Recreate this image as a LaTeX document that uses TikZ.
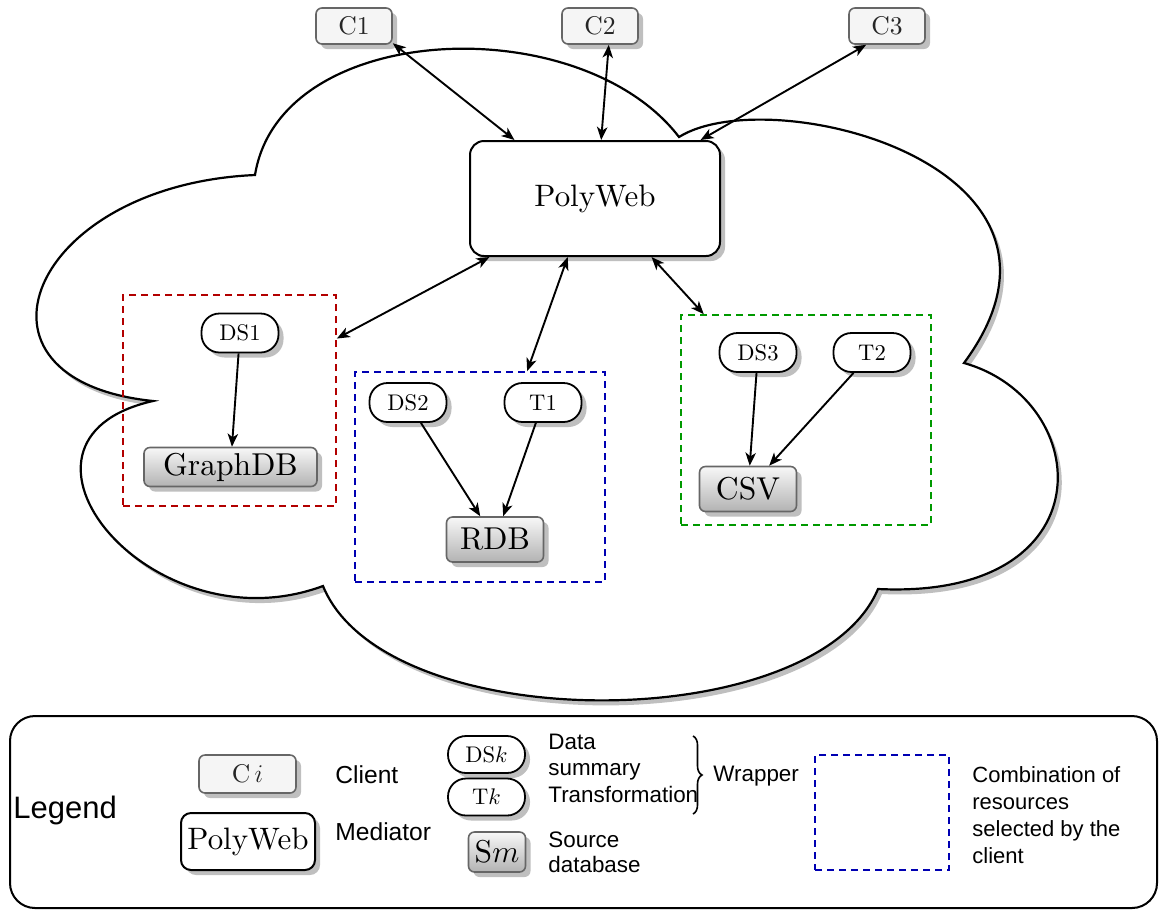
\RequirePackage{fix-cm}
\documentclass[tikz,border=0pt]{standalone}
\usepackage{fontspec}
\setmainfont{lmroman10-regular.otf}[ItalicFont=lmroman10-italic.otf,BoldFont=lmroman10-bold.otf]
\newfontfamily\hv{Liberation Sans}
\usetikzlibrary{arrows.meta,shadows,decorations.pathreplacing}
\begin{document}
\begin{tikzpicture}[x=0.5pt,y=-0.5pt,
  shad/.style={drop shadow={shadow xshift=2.5pt,shadow yshift=-2.5pt,fill=black!25,opacity=1}},
  client/.style={shad,draw=black!60,fill=black!4,rounded corners=3pt,line width=0.8pt,minimum width=38pt,minimum height=18pt,inner sep=0pt,font=\fontsize{12.8}{14}\selectfont,text=black!85},
  med/.style={shad,draw,fill=white,rounded corners=7pt,line width=1pt,font=\fontsize{15.5}{17}\selectfont},
  wrap/.style={shad,draw,fill=white,rounded corners=9pt,line width=0.9pt,minimum width=38.5pt,minimum height=19.5pt,inner sep=0pt,font=\fontsize{11.3}{13}\selectfont},
  db/.style={shad,draw=black!60,top color=black!3,bottom color=black!30,rounded corners=3pt,line width=0.8pt,minimum height=22.5pt,inner sep=0pt,font=\fontsize{15.8}{17}\selectfont},
  sel/.style={draw,dash pattern=on 3.5pt off 2.5pt,line width=0.85pt,minimum width=125pt,minimum height=105pt,inner sep=0pt},
  tip/.tip={Stealth[length=6.5pt,width=5.2pt,inset=1.8pt]},
  conn/.style={line width=0.95pt,-tip},
  biconn/.style={line width=0.95pt,tip-tip},
  lt/.style={font=\hv\fontsize{11.2}{13}\selectfont,anchor=west,inner sep=0pt,align=left}
]
\useasboundingbox (0,0) rectangle (1159,911);

% cloud
\path[draw,line width=1.1pt,fill=white,drop shadow={shadow xshift=2pt,shadow yshift=-2.5pt,fill=black!25,opacity=1}]
  (255,175) .. controls (280,20) and (580,8) .. (679,137)
  .. controls (770,80) and (1110,165) .. (964,363)
  .. controls (1095,400) and (1108,600) .. (878,589)
  .. controls (815,738) and (385,738) .. (323,586)
  .. controls (150,650) and (-20,440) .. (153,401)
  .. controls (-50,380) and (30,185) .. cycle;

% clients and mediator
\node[client] (C1) at (354,26) {C1};
\node[client] (C2) at (600,26) {C2};
\node[client] (C3) at (887,26) {C3};
\node[med,minimum width=125pt,minimum height=57.5pt] (PW) at (595,198.5) {PolyWeb};

% selections
\node[sel,draw=red!70!black,minimum width=106.5pt,minimum height=105.5pt] (gbox) at (229.5,400.5) {};
\node[sel,draw=blue!70!black] (rbox) at (480,477) {};
\node[sel,draw=green!60!black] (cbox) at (806,420) {};

% wrappers and sources
\node[wrap] (DS1) at (240,333) {DS1};
\node[db,minimum width=86.5pt,minimum height=19.5pt] (GDB) at (230.5,467) {GraphDB};
\node[wrap] (DS2) at (408,402.5) {DS2};
\node[wrap] (T1) at (543,402.5) {T1};
\node[db,minimum width=48.5pt] (RDB) at (495,539.5) {RDB};
\node[wrap] (DS3) at (758,352.5) {DS3};
\node[wrap] (T2) at (872,352.5) {T2};
\node[db,minimum width=48.5pt] (CSV) at (748,489) {CSV};

% connectors
\draw[biconn] (C1.-24) -- (PW.144);
\draw[biconn] (C2.-65) -- (PW.84);
\draw[biconn] (C3.222) -- (PW.29);
\draw[biconn] (PW.209) -- (gbox.30);
\draw[biconn] (PW.245) -- (rbox.66);
\draw[biconn] (PW.314) -- (cbox.134);
\draw[conn] (DS1) -- (GDB);
\draw[conn] (DS2) -- (RDB);
\draw[conn] (T1) -- (RDB);
\draw[conn] (DS3) -- (CSV);
\draw[conn] (T2) -- (CSV);

% legend
\node[draw,line width=1pt,rounded corners=12.5pt,minimum width=573.5pt,minimum height=96pt,inner sep=0pt] (legend) at (583.5,812) {};
\node[font=\hv\fontsize{15.5}{18}\selectfont,anchor=west,inner sep=0pt] (lg) at (13,810) {Legend};
\node[client,minimum width=48.5pt,minimum height=19pt] (lci) at (247.5,774) {C\,$i$};
\node[lt,font=\hv\fontsize{12.3}{15}\selectfont] (lclient) at (335,775) {Client};
\node[lt,font=\hv\fontsize{12.3}{15}\selectfont] (lmed) at (335,832) {Mediator};
\node[med,rounded corners=5pt,minimum width=67pt,minimum height=28.5pt,inner sep=0pt] (lpw) at (248,841.5) {PolyWeb};
\node[wrap,minimum height=18.5pt] (lds) at (486.5,754.5) {DS$k$};
\node[wrap,minimum height=18.5pt] (ltk) at (486.5,797) {T$k$};
\node[db,minimum width=28.5pt,minimum height=20pt,font=\fontsize{15.8}{17}\selectfont] (lsm) at (497,852) {S$m$};
\node[lt] (ldata) at (548,757) {Data\\summary};
\node[lt] (ltrans) at (548,794) {Transformation};
\node[lt,font=\hv\fontsize{11.2}{12.5}\selectfont] (lsrc) at (548,852) {Source\\database};
\coordinate (bt) at (693,736);
\coordinate (bb) at (693,814);
\draw[decorate,decoration={brace,amplitude=4.5pt},line width=0.8pt] (bt) -- (bb);
\node[lt] (lwrap) at (713,776) {Wrapper};
\node[sel,draw=blue!70!black,minimum width=67pt,minimum height=57.5pt] (lsel) at (882,812.5) {};
\node[lt,font=\hv\fontsize{11}{13.4}\selectfont] (lcomb) at (972,815) {Combination of\\resources\\selected by the\\client};
\end{tikzpicture}
\end{document}
